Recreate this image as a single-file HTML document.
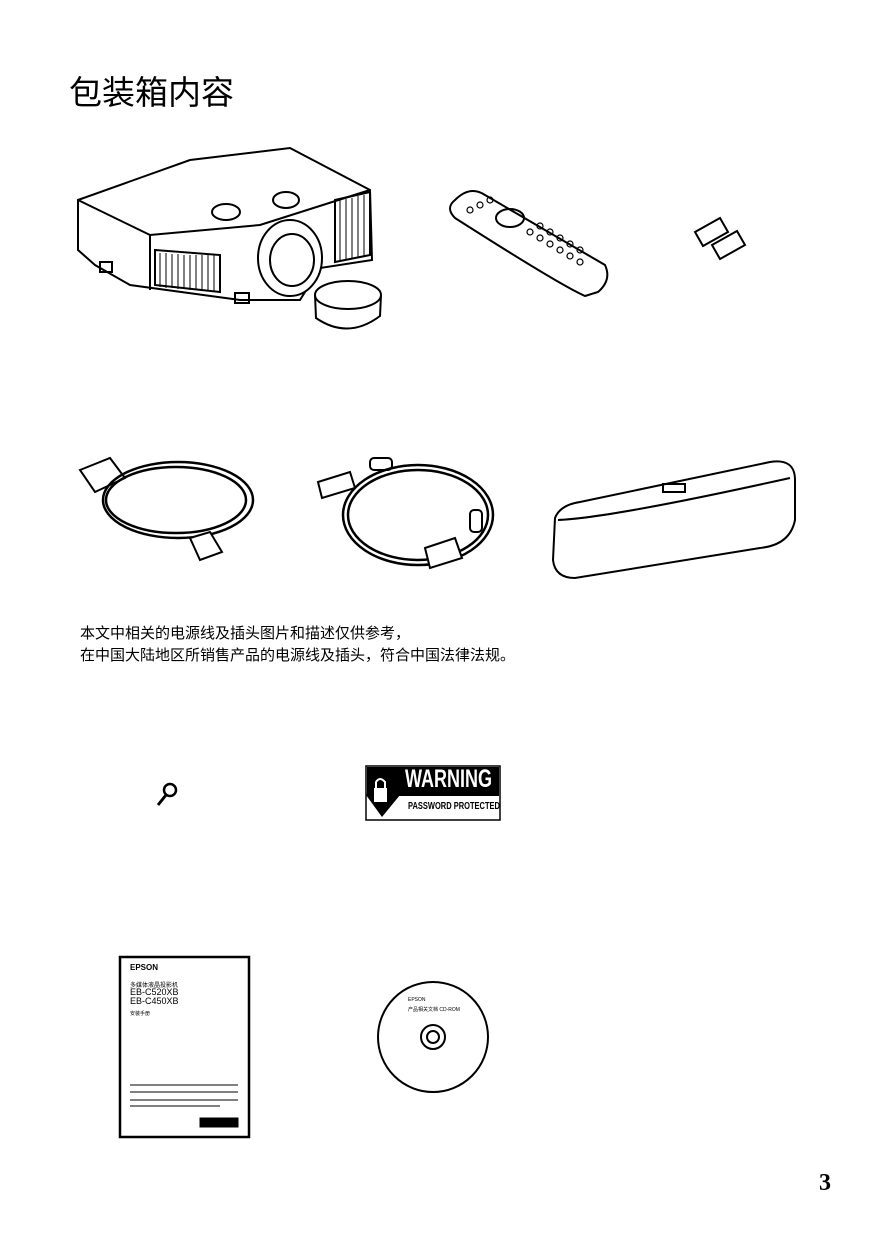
<!DOCTYPE html>
<html><head><meta charset="utf-8"><style>
body{margin:0;background:#fff;}
.p{position:relative;width:875px;height:1241px;overflow:hidden;font-family:"Liberation Sans","Noto Sans CJK SC",sans-serif;}
.t{position:absolute;white-space:nowrap;color:#000;}
svg{position:absolute;left:0;top:0;}
</style></head><body><div class="p">
<div class="t" style="left:69px;top:66px;font-size:33px;">包装箱内容</div>
<div class="t" style="left:80px;top:623px;font-size:15px;line-height:22px;">本文中相关的电源线及插头图片和描述仅供参考，<br>在中国大陆地区所销售产品的电源线及插头，符合中国法律法规。</div>
<div class="t" style="left:819px;top:1170px;font-size:24px;font-weight:bold;font-family:'Liberation Serif',serif;">3</div>
<svg width="875" height="1241" fill="none" stroke="#000" stroke-width="2">
<path d="M78,200 L190,160 L290,148 L370,190 L372,260 L320,268 L300,300 L240,300 L130,285 L95,265 L78,250 Z" fill="#fff"/>
<path d="M78,200 L150,235 L260,225 L370,190"/>
<path d="M150,235 L150,290"/>
<path d="M155,250 L220,255 L220,292 L155,285 Z"/>
<g stroke-width="1"><path d="M160,253 L160,287 M166,253 L166,288 M172,254 L172,288 M178,254 L178,289 M184,255 L184,289 M190,255 L190,290 M196,255 L196,290 M202,255 L202,291 M208,255 L208,291 M214,255 L214,291"/></g>
<path d="M335,200 L370,192 L370,255 L335,262 Z"/>
<g stroke-width="1"><path d="M340,200 L340,260 M346,199 L346,259 M352,198 L352,258 M358,196 L358,257 M364,195 L364,256"/></g>
<ellipse cx="226" cy="212" rx="14" ry="8"/><ellipse cx="286" cy="200" rx="13" ry="8"/>
<ellipse cx="290" cy="258" rx="32" ry="38" fill="#fff"/><ellipse cx="292" cy="260" rx="22" ry="26"/>
<ellipse cx="348" cy="295" rx="33" ry="14" fill="#fff"/><path d="M315,295 L316,318 Q348,340 380,316 L381,295"/>
<rect x="100" y="262" width="12" height="10"/><rect x="235" y="293" width="14" height="10"/>
<path d="M455,200 Q470,185 485,195 L605,265 Q612,280 598,292 L585,296 Q560,285 455,218 Q445,208 455,200 Z" fill="#fff"/>
<ellipse cx="510" cy="218" rx="14" ry="9"/>
<g stroke-width="1.2"><circle cx="530" cy="232" r="3"/><circle cx="540" cy="238" r="3"/><circle cx="550" cy="244" r="3"/><circle cx="560" cy="250" r="3"/><circle cx="570" cy="256" r="3"/><circle cx="580" cy="262" r="3"/><circle cx="540" cy="226" r="3"/><circle cx="550" cy="232" r="3"/><circle cx="560" cy="238" r="3"/><circle cx="570" cy="244" r="3"/><circle cx="580" cy="250" r="3"/><circle cx="480" cy="205" r="3"/><circle cx="490" cy="200" r="3"/><circle cx="470" cy="210" r="3"/></g>
<path d="M695,232 L720,218 L728,232 L703,246 Z M712,245 L737,231 L745,245 L720,259 Z" fill="#fff"/>
<path d="M80,470 L110,458 L125,478 L95,492 Z" fill="#fff"/>
<ellipse cx="178" cy="500" rx="75" ry="38" stroke-width="2.5"/><ellipse cx="176" cy="500" rx="70" ry="33" stroke-width="2.5"/>
<path d="M190,538 L210,532 L222,552 L200,560 Z" fill="#fff"/>
<path d="M318,482 L350,472 L355,488 L322,498 Z" fill="#fff"/><rect x="370" y="458" width="22" height="12" rx="4"/>
<ellipse cx="418" cy="515" rx="75" ry="50" stroke-width="2.5"/><ellipse cx="418" cy="515" rx="70" ry="45" stroke-width="2.5"/>
<path d="M425,548 L455,538 L462,558 L430,568 Z" fill="#fff"/><rect x="470" y="510" width="12" height="22" rx="4"/>
<path d="M555,518 Q560,505 580,502 L770,462 Q795,458 795,480 L795,520 Q790,545 760,548 L575,578 Q555,578 553,560 Z" fill="#fff"/>
<path d="M558,520 Q610,518 790,478"/><rect x="663" y="484" width="22" height="8"/>
<circle cx="170" cy="790" r="6" stroke-width="2.5"/><path d="M166,795 L158,805" stroke-width="3"/>
<rect x="366" y="766" width="134" height="54" stroke-width="1.5"/>
<rect x="367" y="767" width="132" height="29" fill="#000" stroke="none"/>
<path d="M366,795 L382,773 L400,795 L382,817 Z" fill="#000" stroke="none"/>
<rect x="374" y="788" width="13" height="14" fill="#fff" stroke="none"/>
<path d="M376,788 L376,782 Q380,776 385,782 L385,788" stroke="#fff" stroke-width="2"/>
<rect x="120" y="957" width="129" height="180" stroke-width="2.5"/>
<g stroke-width="1"><path d="M130,1085 L238,1085 M130,1092 L238,1092 M130,1100 L238,1100 M130,1106 L220,1106"/><rect x="200" y="1118" width="38" height="9" fill="#000"/></g>
<circle cx="433" cy="1037" r="55"/><circle cx="433" cy="1037" r="12"/><circle cx="433" cy="1037" r="6"/>
</svg>
<div class="t" style="left:405px;top:765px;font-size:25px;font-weight:bold;color:#fff;transform:scaleX(0.72);transform-origin:left;">WARNING</div>
<div class="t" style="left:408px;top:801px;font-size:10px;font-weight:bold;transform:scaleX(0.75);transform-origin:left;">PASSWORD PROTECTED</div>
<div class="t" style="left:130px;top:963px;font-size:8px;font-weight:bold;">EPSON</div>
<div class="t" style="left:130px;top:980px;font-size:6px;">多媒体液晶投影机</div>
<div class="t" style="left:130px;top:988px;font-size:9px;line-height:9px;">EB-C520XB<br>EB-C450XB</div>
<div class="t" style="left:130px;top:1010px;font-size:5px;">安装手册</div>
<div class="t" style="left:408px;top:997px;font-size:5px;">EPSON</div>
<div class="t" style="left:408px;top:1006px;font-size:5px;">产品相关文档 CD-ROM</div>
</div></body></html>
